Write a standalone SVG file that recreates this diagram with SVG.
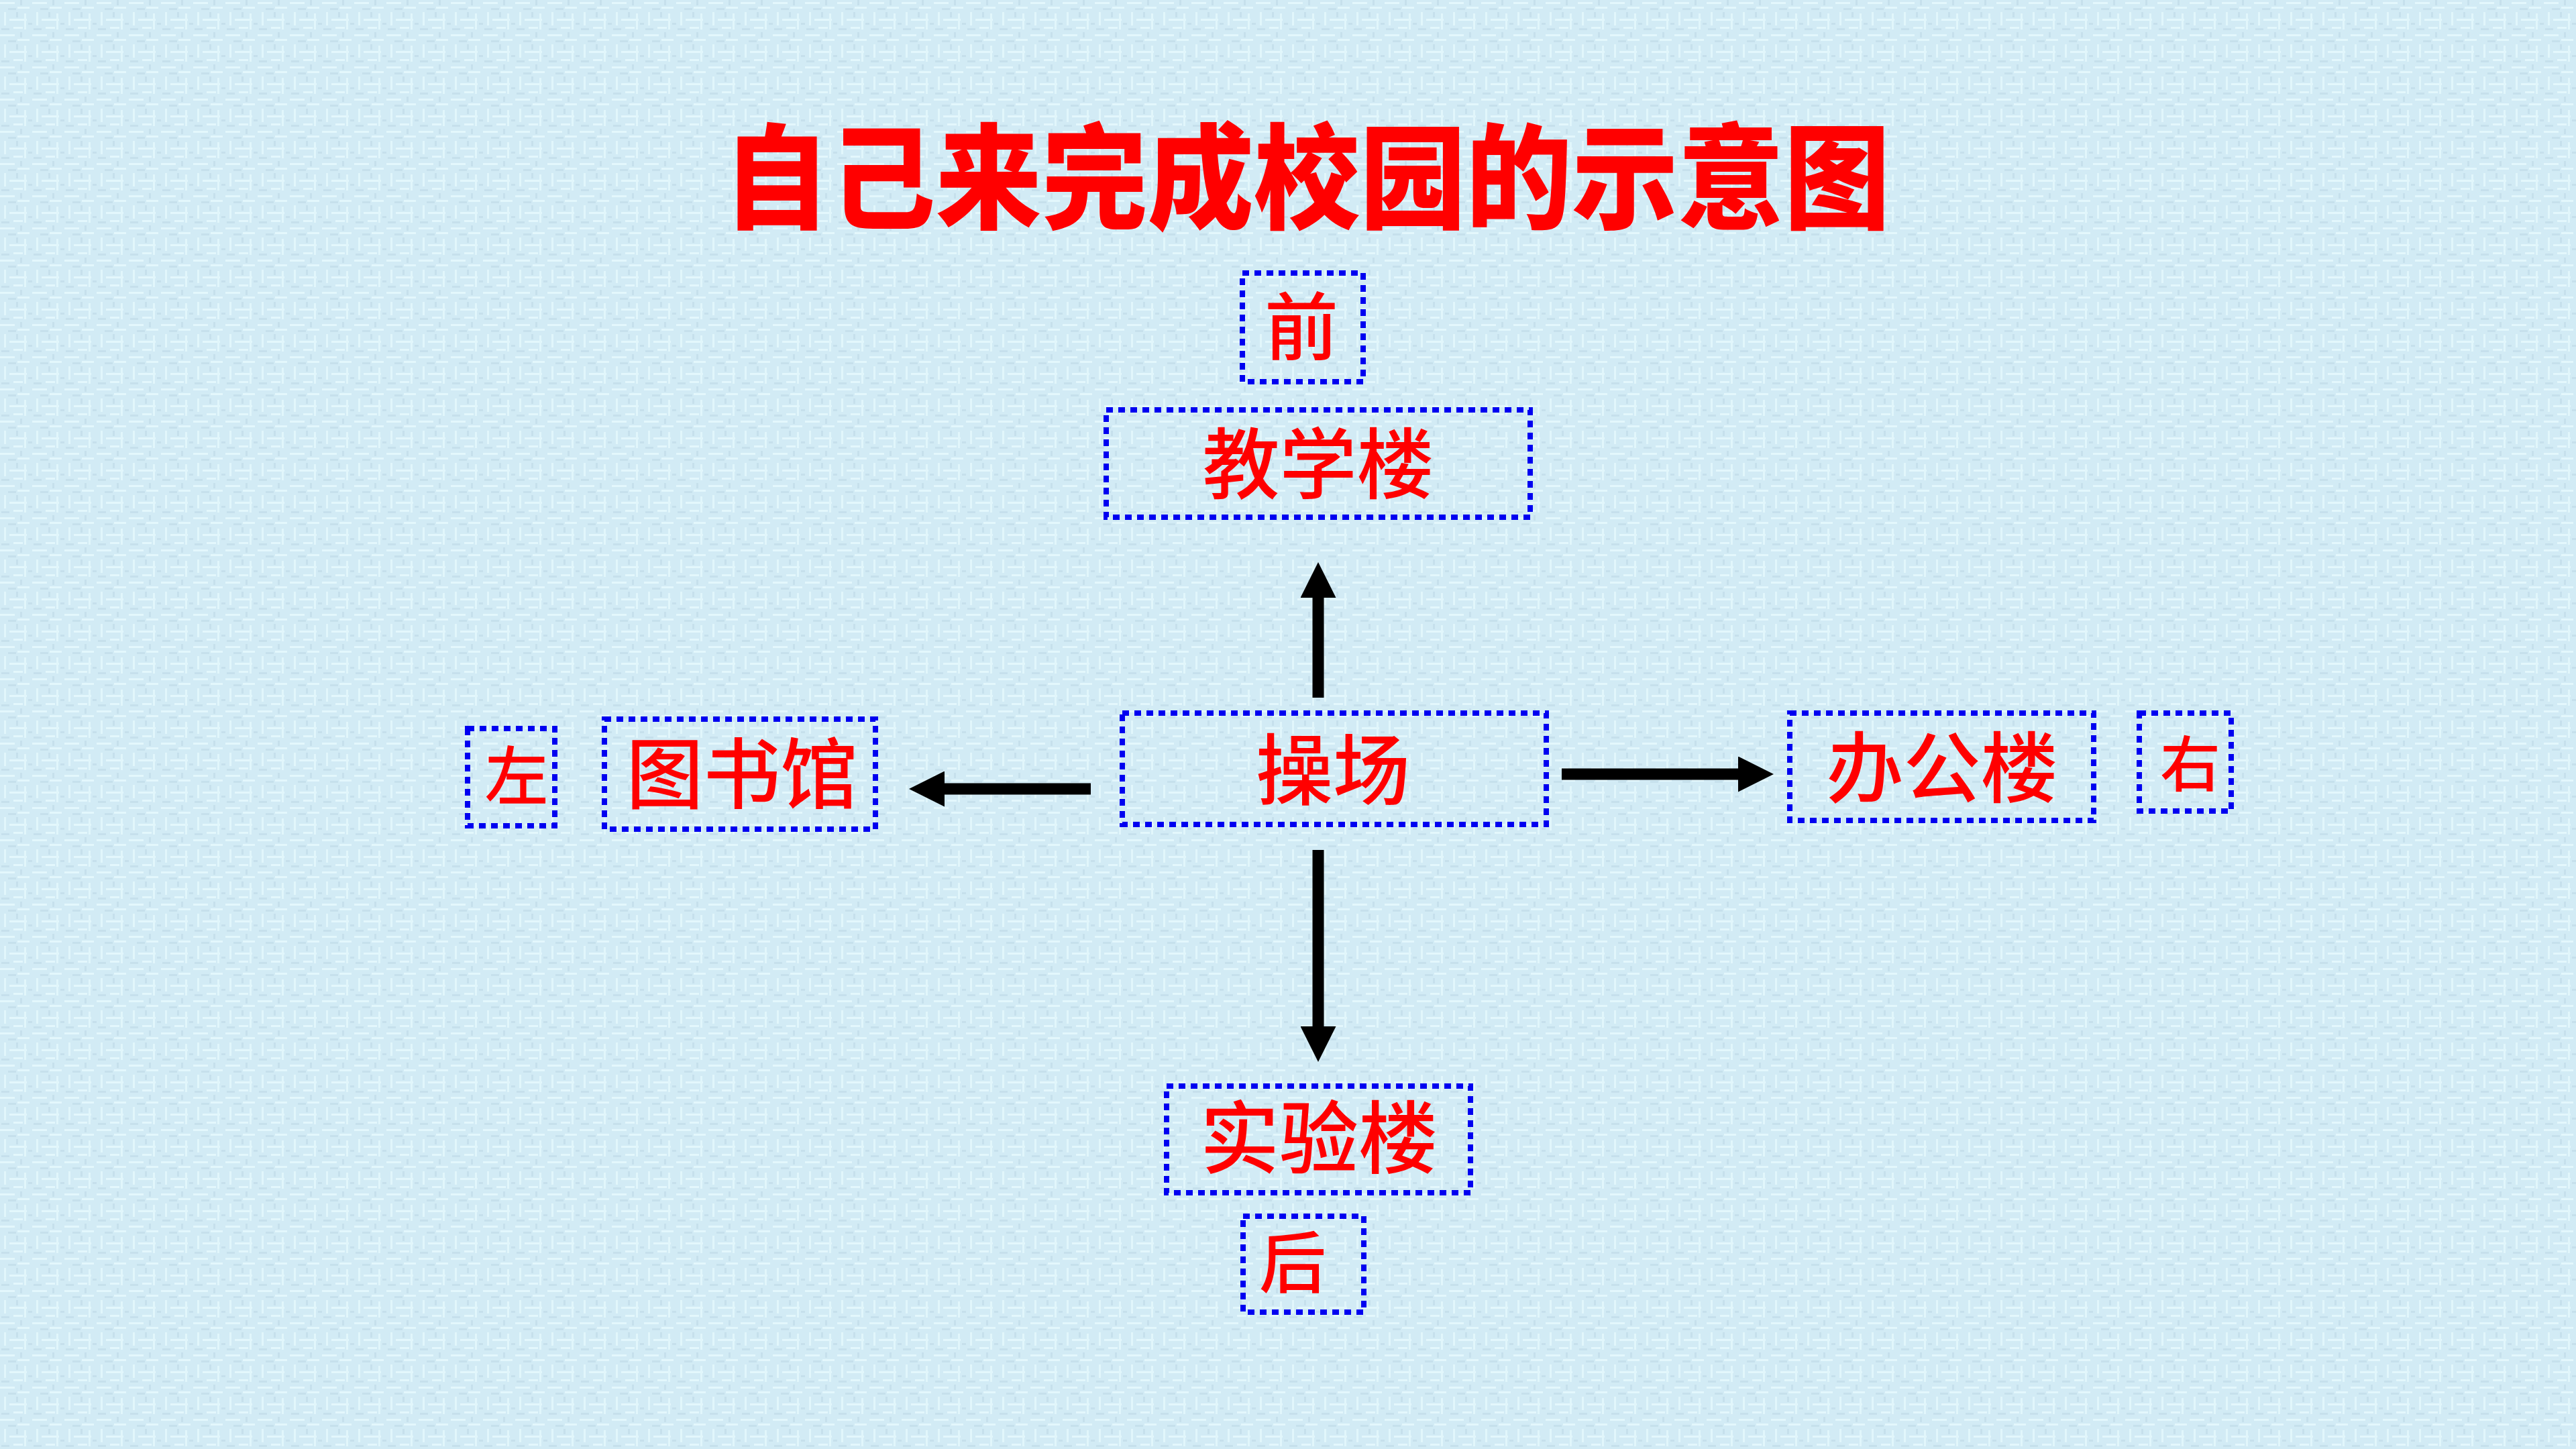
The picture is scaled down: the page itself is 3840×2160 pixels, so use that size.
<svg xmlns="http://www.w3.org/2000/svg" width="3840" height="2160" viewBox="0 0 3840 2160">
<defs>
<pattern id="tex" x="0" y="0" width="48" height="48" patternUnits="userSpaceOnUse">
<rect width="48" height="48" fill="#d2ebf5"/>
<rect x="0" y="3" width="22" height="3" fill="#e3f7fc"/>
<rect x="26" y="10" width="18" height="3" fill="#e3f7fc"/>
<rect x="6" y="18" width="3" height="20" fill="#e1f6fb"/>
<rect x="14" y="28" width="26" height="3" fill="#e3f7fc"/>
<rect x="36" y="20" width="3" height="24" fill="#e1f6fb"/>
<rect x="20" y="40" width="14" height="3" fill="#e3f7fc"/>
<rect x="30" y="0" width="3" height="8" fill="#c6e0ec"/>
<rect x="12" y="12" width="12" height="3" fill="#c6e0ec"/>
<rect x="42" y="34" width="6" height="3" fill="#c6e0ec"/>
<rect x="2" y="42" width="12" height="3" fill="#c6e0ec"/>
<rect x="24" y="18" width="3" height="8" fill="#c6e0ec"/>
</pattern>
<marker id="ah" viewBox="0 0 53 53" refX="1" refY="26.5" markerWidth="53" markerHeight="53" markerUnits="userSpaceOnUse" orient="auto">
<path d="M0,0 L53,26.5 L0,53 Z" fill="#000"/>
</marker>
<style>
.box{fill:none;stroke:#0000f0;stroke-width:8;stroke-dasharray:10 8}
.lbl{font-family:"Noto Sans CJK SC","Noto Sans CJK TC",sans-serif;font-weight:500;fill:#ff0000;text-anchor:middle}
.title{font-family:"Noto Sans CJK SC",sans-serif;font-weight:900;fill:#ff0000;text-anchor:middle}
.conn{stroke:#000;stroke-width:17;fill:none;marker-end:url(#ah)}
</style>
</defs>
<rect width="3840" height="2160" fill="url(#tex)"/>
<text class="title" x="1948" y="328" font-size="170" textLength="1739" lengthAdjust="spacingAndGlyphs">自己来完成校园的示意图</text>
<g id="connectors">
<line class="conn" x1="1965" y1="1040" x2="1965" y2="890"/>
<line class="conn" x1="1965" y1="1267" x2="1965" y2="1531"/>
<line class="conn" x1="1626" y1="1176" x2="1407" y2="1176"/>
<line class="conn" x1="2328" y1="1154" x2="2592" y2="1154"/>
</g>
<g id="front"><rect class="box" x="1852" y="407" width="180" height="162"/><text class="lbl" x="1940" y="528" font-size="110">前</text></g>
<g id="teaching"><rect class="box" x="1649" y="611" width="632" height="160"/><text class="lbl" x="1965" y="734" font-size="115">教学楼</text></g>
<g id="left"><rect class="box" x="697" y="1086" width="130" height="145"/><text class="lbl" x="770" y="1192" font-size="95">左</text></g>
<g id="library"><rect class="box" x="901" y="1072" width="404" height="164"/><text class="lbl" x="1106" y="1196" font-size="115">图书馆</text></g>
<g id="playground"><rect class="box" x="1673" y="1063" width="632" height="166"/><text class="lbl" x="1987" y="1190" font-size="115">操场</text></g>
<g id="office"><rect class="box" x="2668" y="1063" width="453" height="160"/><text class="lbl" x="2895" y="1187" font-size="115">办公楼</text></g>
<g id="right"><rect class="box" x="3189" y="1063" width="137" height="146"/><text class="lbl" x="3265" y="1172" font-size="90">右</text></g>
<g id="lab"><rect class="box" x="1739" y="1619" width="453" height="159"/><text class="lbl" x="1966" y="1740" font-size="118">实验楼</text></g>
<g id="back"><rect class="box" x="1853" y="1813" width="180" height="143"/><text class="lbl" x="1927" y="1919" font-size="100">后</text></g>
</svg>
